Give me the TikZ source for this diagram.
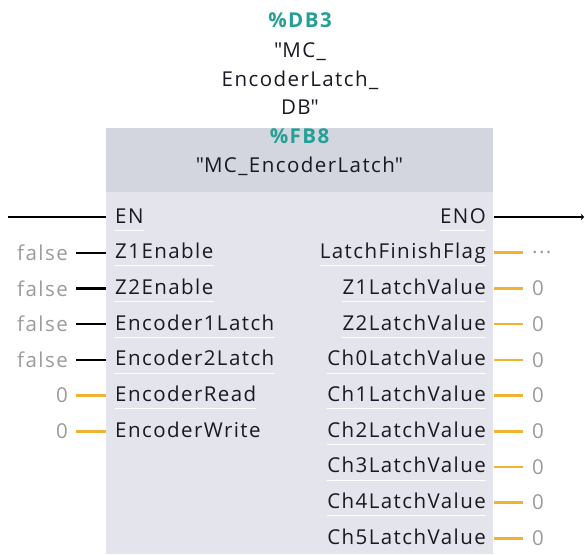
\documentclass[tikz,border=0pt]{standalone}
\usepackage{fontspec}
\setmainfont[LetterSpace=7]{Open Sans}
\usetikzlibrary{arrows.meta, positioning}

\definecolor{hdrgray}{RGB}{212,214,223}
\definecolor{bodygray}{RGB}{228,229,236}
\definecolor{dbteal}{RGB}{38,160,150}
\definecolor{wireorange}{RGB}{240,178,50}
\definecolor{valgray}{RGB}{155,155,155}
\definecolor{pintext}{RGB}{25,25,35}

\tikzset{
  pinlbl/.style={text=pintext, inner xsep=0pt, inner ysep=4pt, text height=15pt, text depth=3pt},
  inlbl/.style={pinlbl, anchor=west},
  outlbl/.style={pinlbl, anchor=east},
  inval/.style={text=valgray, anchor=east, inner xsep=8pt, inner ysep=0pt},
  outval/.style={text=valgray, anchor=west, inner xsep=9pt, inner ysep=0pt},
  boolwire/.style={black, line width=2.2pt},
  intwire/.style={wireorange, line width=2.6pt},
  sepline/.style={white, line width=0.9pt},
}

\begin{document}
\begin{tikzpicture}[x=1pt, y=-1pt, font=\fontsize{20.5}{28.5}\selectfont]
\useasboundingbox (0,0) rectangle (585,554);

% instance data block
\node[text=dbteal, font=\fontsize{20.5}{28.5}\selectfont\bfseries] (dbnum) at (300,20) {\%DB3};
\node[text=pintext, align=center] (dbname) at (300,79) {\textquotedbl MC\_\\EncoderLatch\_\\DB\textquotedbl};

% block body
\fill[bodygray] (106,128) rectangle (493,554);
\fill[hdrgray] (106,128) rectangle (493,192);
\node[text=dbteal, font=\fontsize{20.5}{28.5}\selectfont\bfseries] (fbnum) at (299.5,136) {\%FB8};
\node[text=pintext] (fbname) at (299.5,166) {\textquotedbl MC\_EncoderLatch\textquotedbl};

% inputs
\node[inlbl] (en) at (115,217) {EN};
\node[inlbl] (z1en) at (115,252.7) {Z1Enable};
\node[inlbl] (z2en) at (115,288.4) {Z2Enable};
\node[inlbl] (enc1) at (115,324.1) {Encoder1Latch};
\node[inlbl] (enc2) at (115,359.8) {Encoder2Latch};
\node[inlbl] (encrd) at (115,395.5) {EncoderRead};
\node[inlbl] (encwr) at (115,431.2) {EncoderWrite};

\coordinate (enStart) at (8,217);
\coordinate (inEN) at (106,217);
\coordinate (inZ1) at (106,252.7);
\coordinate (inZ2) at (106,288.4);
\coordinate (inE1) at (106,324.1);
\coordinate (inE2) at (106,359.8);
\coordinate (inRd) at (106,395.5);
\coordinate (inWr) at (106,431.2);

\node[inval] (vZ1) at (76,252.7) {false};
\node[inval] (vZ2) at (76,288.4) {false};
\node[inval] (vE1) at (76,324.1) {false};
\node[inval] (vE2) at (76,359.8) {false};
\node[inval] (vRd) at (76,395.5) {0};
\node[inval] (vWr) at (76,431.2) {0};

\draw[boolwire] (enStart) -- (inEN);
\draw[boolwire] (vZ1.east) -- (inZ1);
\draw[boolwire] (vZ2.east) -- (inZ2);
\draw[boolwire] (vE1.east) -- (inE1);
\draw[boolwire] (vE2.east) -- (inE2);
\draw[intwire] (vRd.east) -- (inRd);
\draw[intwire] (vWr.east) -- (inWr);

% outputs
\node[outlbl] (eno) at (486,217) {ENO};
\node[outlbl] (flag) at (486,252.7) {LatchFinishFlag};
\node[outlbl] (z1lv) at (486,288.4) {Z1LatchValue};
\node[outlbl] (z2lv) at (486,324.1) {Z2LatchValue};
\node[outlbl] (ch0) at (486,359.8) {Ch0LatchValue};
\node[outlbl] (ch1) at (486,395.5) {Ch1LatchValue};
\node[outlbl] (ch2) at (486,431.2) {Ch2LatchValue};
\node[outlbl] (ch3) at (486,466.9) {Ch3LatchValue};
\node[outlbl] (ch4) at (486,502.6) {Ch4LatchValue};
\node[outlbl] (ch5) at (486,538.3) {Ch5LatchValue};

\coordinate (outENO) at (494,217);
\coordinate (enoEnd) at (584,217);
\coordinate (outFlag) at (494,252.7);
\coordinate (outZ1) at (494,288.4);
\coordinate (outZ2) at (494,324.1);
\coordinate (out0) at (494,359.8);
\coordinate (out1) at (494,395.5);
\coordinate (out2) at (494,431.2);
\coordinate (out3) at (494,466.9);
\coordinate (out4) at (494,502.6);
\coordinate (out5) at (494,538.3);

\node[outval] (wFlag) at (523,252.7) {...};
\node[outval] (wZ1) at (523,288.4) {0};
\node[outval] (wZ2) at (523,324.1) {0};
\node[outval] (w0) at (523,359.8) {0};
\node[outval] (w1) at (523,395.5) {0};
\node[outval] (w2) at (523,431.2) {0};
\node[outval] (w3) at (523,466.9) {0};
\node[outval] (w4) at (523,502.6) {0};
\node[outval] (w5) at (523,538.3) {0};

\draw[boolwire, -{Stealth[length=3pt, width=6pt]}] (outENO) -- (enoEnd);
\draw[intwire] (outFlag) -- (wFlag.west);
\draw[intwire] (outZ1) -- (wZ1.west);
\draw[intwire] (outZ2) -- (wZ2.west);
\draw[intwire] (out0) -- (w0.west);
\draw[intwire] (out1) -- (w1.west);
\draw[intwire] (out2) -- (w2.west);
\draw[intwire] (out3) -- (w3.west);
\draw[intwire] (out4) -- (w4.west);
\draw[intwire] (out5) -- (w5.west);

% separators under the pin names
\draw[sepline] (en.south west) -- (en.south east);
\draw[sepline] (z1en.south west) -- (z1en.south east);
\draw[sepline] (z2en.south west) -- (z2en.south east);
\draw[sepline] (enc1.south west) -- (enc1.south east);
\draw[sepline] (enc2.south west) -- (enc2.south east);
\draw[sepline] (encrd.south west) -- (encrd.south east);
\draw[sepline] (eno.south west) -- (eno.south east);
\draw[sepline] (flag.south west) -- (flag.south east);
\draw[sepline] (z1lv.south west) -- (z1lv.south east);
\draw[sepline] (z2lv.south west) -- (z2lv.south east);
\draw[sepline] (ch0.south west) -- (ch0.south east);
\draw[sepline] (ch1.south west) -- (ch1.south east);
\draw[sepline] (ch2.south west) -- (ch2.south east);
\draw[sepline] (ch3.south west) -- (ch3.south east);
\draw[sepline] (ch4.south west) -- (ch4.south east);
\end{tikzpicture}
\end{document}
